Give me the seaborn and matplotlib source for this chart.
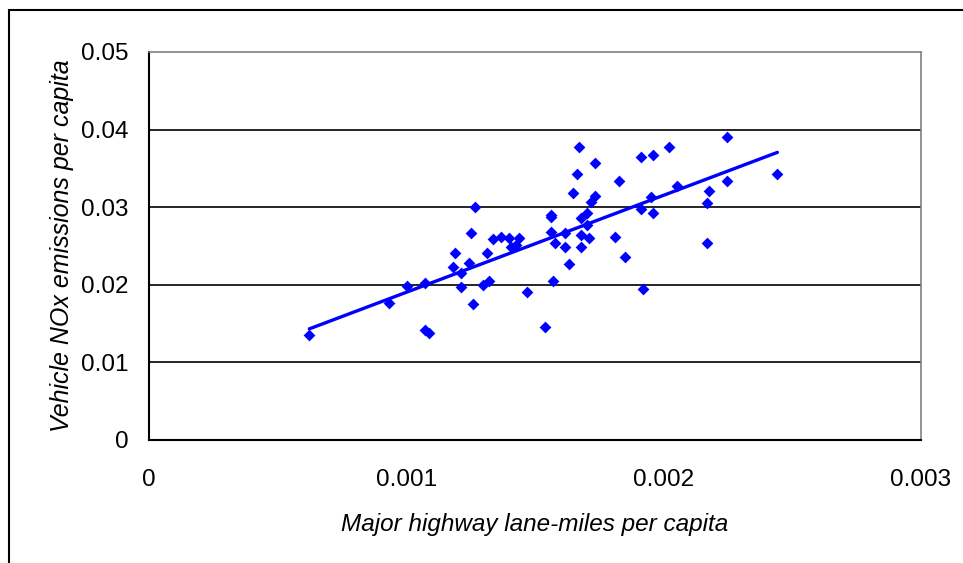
import numpy as np
import seaborn as sns
import matplotlib.pyplot as plt
from matplotlib.patches import Rectangle

# Lane-miles per capita (x) vs vehicle NOx emissions per capita (y)
lane_miles = [
    0.000623, 0.000934, 0.001004, 0.001071, 0.001071, 0.001089, 0.001183, 0.001190,
    0.001214, 0.001214, 0.001245, 0.001253, 0.001260, 0.001268, 0.001299, 0.001322,
    0.001315, 0.001338, 0.001369, 0.001400, 0.001439, 0.001405, 0.001428, 0.001470,
    0.001540, 0.001563, 0.001563, 0.001563, 0.001571, 0.001579, 0.001618, 0.001618,
    0.001633, 0.001649, 0.001664, 0.001672, 0.001680, 0.001680, 0.001680, 0.001703,
    0.001703, 0.001711, 0.001719, 0.001734, 0.001734, 0.001812, 0.001827, 0.001851,
    0.001913, 0.001913, 0.001921, 0.001960, 0.001952, 0.001960, 0.002022, 0.002053,
    0.002170, 0.002177, 0.002170, 0.002247, 0.002247, 0.002442,
]
nox = [
    0.01353, 0.01769, 0.01985, 0.02027, 0.01418, 0.01383, 0.02234, 0.02414,
    0.02148, 0.01976, 0.02285, 0.02672, 0.01748, 0.03003, 0.02002, 0.02053,
    0.02414, 0.02594, 0.02620, 0.02599, 0.02599, 0.02491, 0.02510, 0.01903,
    0.01460, 0.02900, 0.02880, 0.02685, 0.02053, 0.02543, 0.02672, 0.02491,
    0.02264, 0.03187, 0.03424, 0.03780, 0.02857, 0.02642, 0.02491, 0.02930,
    0.02771, 0.02599, 0.03071, 0.03144, 0.03574, 0.02620, 0.03342, 0.02363,
    0.03651, 0.02977, 0.01950, 0.03677, 0.03136, 0.02930, 0.03780, 0.03273,
    0.03058, 0.03213, 0.02543, 0.03909, 0.03342, 0.03424,
]
x_ticks = [0, 0.001, 0.002, 0.003]
x_tick_labels = ["0", "0.001", "0.002", "0.003"]
y_ticks = [0, 0.01, 0.02, 0.03, 0.04, 0.05]
y_tick_labels = ["0", "0.01", "0.02", "0.03", "0.04", "0.05"]

sns.set_style("white")
plt.rcParams['font.family'] = ['Liberation Sans', 'DejaVu Sans']
plt.rcParams['text.color'] = 'black'
plt.rcParams['axes.labelcolor'] = 'black'
plt.rcParams['xtick.color'] = 'black'
plt.rcParams['ytick.color'] = 'black'

fig = plt.figure(figsize=(9.63, 5.63), dpi=100)
ax = fig.add_axes([149 / 963, 1 - 440 / 563, (921 - 149) / 963, (440 - 52) / 563])

# outer chart frame (cropped on the right and bottom)
fig.patches.append(Rectangle((9 / 963, -0.2), 1.5, 1.2 - 10 / 563, transform=fig.transFigure,
                             fill=False, edgecolor='black', linewidth=1.5))

# horizontal gridlines
for yv in y_ticks[1:-1]:
    ax.axhline(yv, color='black', linewidth=1.2, zorder=1)

sns.regplot(x=lane_miles, y=nox, ax=ax, ci=None, color='#0000FF', marker='D',
            scatter_kws={'s': 36, 'linewidths': 0, 'alpha': 1, 'zorder': 3},
            line_kws={'linewidth': 2.4, 'zorder': 2})

ax.set_xlim(0, 0.003)
ax.set_ylim(0, 0.05)
ax.set_xticks(x_ticks)
ax.set_xticklabels(x_tick_labels)
ax.set_yticks(y_ticks)
ax.set_yticklabels(y_tick_labels)
ax.tick_params(axis='both', direction='out', length=5, width=1.2,
               labelsize=17.5)
ax.tick_params(axis='x', pad=16)
ax.tick_params(axis='y', pad=10)

for side in ['left', 'bottom']:
    ax.spines[side].set_color('black')
    ax.spines[side].set_linewidth(1.5)
for side in ['top', 'right']:
    ax.spines[side].set_color('#808080')
    ax.spines[side].set_linewidth(1.2)

ax.set_xlabel('Major highway lane-miles per capita', fontsize=17.5, style='italic', labelpad=16)
ax.set_ylabel('Vehicle NOx emissions per capita', fontsize=18, style='italic', labelpad=5)

fig.savefig('out.png', dpi=100)
